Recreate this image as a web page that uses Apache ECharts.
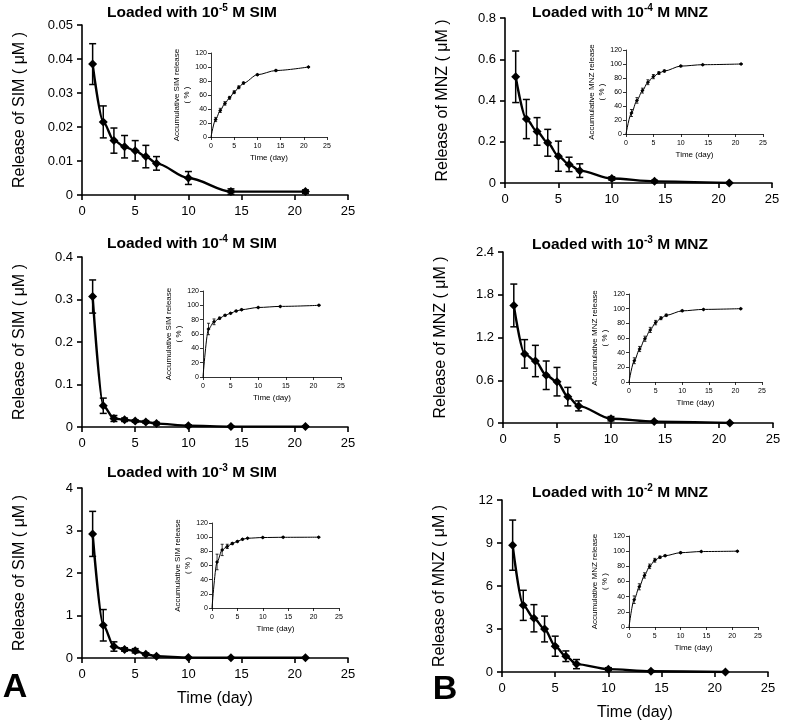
<!DOCTYPE html>
<html>
<head>
<meta charset="utf-8">
<script src="https://cdn.jsdelivr.net/npm/echarts@6/dist/echarts.min.js"></script>
<style>html,body{margin:0;padding:0;background:#fff;}#c{width:785px;height:728px;}</style>
</head>
<body>
<div id="c"></div>
<script>
// ---- data ----
const days = [1, 2, 3, 4, 5, 6, 7, 10, 14, 21];
const cumDays = [0, 1, 2, 3, 4, 5, 6, 7, 10, 14, 21];
const timeTicks = [0, 5, 10, 15, 20, 25];
const cumTicks = [0, 20, 40, 60, 80, 100, 120];

const sim5Mean = [0.0385, 0.0215, 0.016, 0.0142, 0.013, 0.0113, 0.0093, 0.005, 0.001, 0.001];
const sim5Err = [0.006, 0.0047, 0.0037, 0.0033, 0.003, 0.0033, 0.002, 0.0019, 0.0008, 0.0005];
const sim5Cum = [0, 25, 38, 48, 56, 64, 71, 77, 89, 95, 100];
const sim5CumErr = [0, 3, 3, 2.5, 2, 2, 2, 1.5, 1, 1, 0.5];
const sim5Ticks = [0, 0.01, 0.02, 0.03, 0.04, 0.05];

const sim4Mean = [0.307, 0.05, 0.02, 0.017, 0.014, 0.012, 0.008, 0.003, 0.001, 0.001];
const sim4Err = [0.039, 0.018, 0.007, 0.004, 0.003, 0.003, 0.003, 0.002, 0.001, 0.001];
const sim4Cum = [0, 67, 77, 82, 86, 89, 92, 94, 97, 98.5, 100];
const sim4CumErr = [0, 8, 4, 1.5, 1, 1, 1, 1, 0.5, 0.5, 0.5];
const sim4Ticks = [0, 0.1, 0.2, 0.3, 0.4];

const sim3Mean = [2.92, 0.77, 0.27, 0.2, 0.17, 0.09, 0.04, 0.01, 0.005, 0.005];
const sim3Err = [0.53, 0.37, 0.11, 0.04, 0.05, 0.03, 0.02, 0.01, 0.005, 0.005];
const sim3Cum = [0, 65, 82, 87, 91, 94, 97, 98.5, 99.5, 99.8, 100];
const sim3CumErr = [0, 11, 8, 3, 1.5, 1, 1, 0.5, 0.5, 0.5, 0.5];
const sim3Ticks = [0, 1, 2, 3, 4];

const mnz4Mean = [0.515, 0.31, 0.25, 0.195, 0.13, 0.09, 0.06, 0.022, 0.008, 0];
const mnz4Err = [0.125, 0.095, 0.067, 0.065, 0.073, 0.035, 0.033, 0.008, 0.005, 0.002];
const mnz4Cum = [0, 30, 48, 62, 74, 82, 87, 90, 97, 99, 100];
const mnz4CumErr = [0, 5, 4, 3.5, 3.5, 3, 2, 1.5, 1, 0.5, 0.5];
const mnz4Ticks = [0, 0.2, 0.4, 0.6, 0.8];

const mnz3Mean = [1.65, 0.97, 0.87, 0.67, 0.58, 0.37, 0.24, 0.06, 0.02, 0];
const mnz3Err = [0.3, 0.2, 0.22, 0.2, 0.2, 0.13, 0.07, 0.03, 0.01, 0.005];
const mnz3Cum = [0, 29, 45, 59, 71, 81, 87, 91, 97, 99, 100];
const mnz3CumErr = [0, 4, 3.5, 3.5, 3.5, 3, 2, 1.5, 1, 0.5, 0.5];
const mnz3Ticks = [0, 0.6, 1.2, 1.8, 2.4];

const mnz2Mean = [8.85, 4.65, 3.75, 3.0, 1.8, 1.1, 0.55, 0.2, 0.05, 0];
const mnz2Err = [1.75, 1.05, 0.95, 0.9, 0.7, 0.37, 0.32, 0.1, 0.05, 0.02];
const mnz2Cum = [0, 36, 53, 68, 80, 88, 92, 94, 98, 99.5, 100];
const mnz2CumErr = [0, 5, 4, 3.5, 3, 2.5, 1.5, 1, 1, 0.5, 0.5];
const mnz2Ticks = [0, 3, 6, 9, 12];

// ---- layout ----
const FONT = '"Liberation Sans", Arial, sans-serif';
const panels = [
  {drug:'SIM', exp:'-5', mean:sim5Mean, err:sim5Err, cum:sim5Cum, cumErr:sim5CumErr, ticks:sim5Ticks,
   main:{left:82, top:25, width:266, height:170}, inset:{left:211, top:53, width:116, height:84}, title:[192,13], xname:false},
  {drug:'SIM', exp:'-4', mean:sim4Mean, err:sim4Err, cum:sim4Cum, cumErr:sim4CumErr, ticks:sim4Ticks,
   main:{left:82, top:257, width:266, height:170}, inset:{left:203, top:291, width:138, height:86}, title:[192,244], xname:false},
  {drug:'SIM', exp:'-3', mean:sim3Mean, err:sim3Err, cum:sim3Cum, cumErr:sim3CumErr, ticks:sim3Ticks,
   main:{left:82, top:488, width:266, height:170}, inset:{left:212, top:523, width:127, height:85}, title:[192,473], xname:true},
  {drug:'MNZ', exp:'-4', mean:mnz4Mean, err:mnz4Err, cum:mnz4Cum, cumErr:mnz4CumErr, ticks:mnz4Ticks,
   main:{left:505, top:18, width:267, height:165}, inset:{left:626, top:50, width:137, height:84}, title:[620,13], xname:false},
  {drug:'MNZ', exp:'-3', mean:mnz3Mean, err:mnz3Err, cum:mnz3Cum, cumErr:mnz3CumErr, ticks:mnz3Ticks,
   main:{left:503, top:252, width:270, height:171}, inset:{left:629, top:294, width:133, height:88}, title:[620,245], xname:false},
  {drug:'MNZ', exp:'-2', mean:mnz2Mean, err:mnz2Err, cum:mnz2Cum, cumErr:mnz2CumErr, ticks:mnz2Ticks,
   main:{left:502, top:500, width:266, height:172}, inset:{left:629, top:536, width:129, height:91}, title:[620,493], xname:true}
];

const grid = [], xAxis = [], yAxis = [], series = [], graphic = [];

function errRender(cap, lw) {
  return function (params, api) {
    const x = api.value(0), y = api.value(1), e = api.value(2);
    const t = api.coord([x, y + e]);
    const b = api.coord([x, Math.max(0, y - e)]);
    const st = {stroke: '#000', lineWidth: lw};
    return {type: 'group', children: [
      {type: 'line', shape: {x1: t[0], y1: t[1], x2: b[0], y2: b[1]}, style: st},
      {type: 'line', shape: {x1: t[0] - cap, y1: t[1], x2: t[0] + cap, y2: t[1]}, style: st},
      {type: 'line', shape: {x1: b[0] - cap, y1: b[1], x2: b[0] + cap, y2: b[1]}, style: st}
    ]};
  };
}

function axisCommon(fs, lw, tickLen, margin) {
  return {
    axisLine: {show: true, onZero: false, lineStyle: {color: '#000', width: lw}},
    axisTick: {show: true, inside: false, length: tickLen, lineStyle: {color: '#000', width: lw}},
    axisLabel: {color: '#000', fontSize: fs, fontFamily: FONT, margin: margin},
    splitLine: {show: false}
  };
}

panels.forEach(function (p) {
  // main grid
  const gi = grid.length;
  grid.push(Object.assign({containLabel: false}, p.main));
  const xm = axisCommon(13, 1.6, 5, 10);
  xAxis.push(Object.assign(xm, {
    type: 'value', gridIndex: gi, min: timeTicks[0], max: timeTicks[timeTicks.length - 1],
    interval: timeTicks[1] - timeTicks[0],
    name: p.xname ? 'Time (day)' : '', nameLocation: 'middle', nameGap: 33,
    nameTextStyle: {color: '#000', fontSize: 16, fontFamily: FONT}
  }));
  const ym = axisCommon(13, 1.6, 5, 9);
  yAxis.push(Object.assign(ym, {
    type: 'value', gridIndex: gi, min: p.ticks[0], max: p.ticks[p.ticks.length - 1],
    interval: p.ticks[1] - p.ticks[0],
    name: 'Release of ' + p.drug + ' ( \u03bcM )', nameLocation: 'middle', nameGap: 54, nameRotate: 90,
    nameTextStyle: {color: '#000', fontSize: 16, fontFamily: FONT}
  }));
  series.push({
    type: 'line', xAxisIndex: gi, yAxisIndex: gi, smooth: 0.3, smoothMonotone: 'x',
    data: days.map(function (d, k) { return [d, p.mean[k]]; }),
    symbol: 'diamond', symbolSize: 9, showSymbol: true,
    lineStyle: {color: '#000', width: 2.4}, itemStyle: {color: '#000'},
    animation: false, z: 3
  });
  series.push({
    type: 'custom', xAxisIndex: gi, yAxisIndex: gi, renderItem: errRender(3.5, 1.5),
    encode: {x: 0, y: 1},
    data: days.map(function (d, k) { return [d, p.mean[k], p.err[k]]; }),
    animation: false, z: 4, clip: false
  });
  // inset grid
  const ii = grid.length;
  grid.push(Object.assign({containLabel: false}, p.inset));
  const xi = axisCommon(7, 0.8, 3, 6);
  xAxis.push(Object.assign(xi, {
    type: 'value', gridIndex: ii, min: timeTicks[0], max: timeTicks[timeTicks.length - 1],
    interval: timeTicks[1] - timeTicks[0],
    name: 'Time (day)', nameLocation: 'middle', nameGap: 17,
    nameTextStyle: {color: '#000', fontSize: 8, fontFamily: FONT}
  }));
  const yi = axisCommon(7, 0.8, 3, 4);
  yAxis.push(Object.assign(yi, {
    type: 'value', gridIndex: ii, min: cumTicks[0], max: cumTicks[cumTicks.length - 1],
    interval: cumTicks[1] - cumTicks[0],
    name: 'Accumulative ' + p.drug + ' release\n( % )', nameLocation: 'middle', nameGap: 14, nameRotate: 90,
    nameTextStyle: {color: '#000', fontSize: 8, lineHeight: 10, fontFamily: FONT}
  }));
  series.push({
    type: 'line', xAxisIndex: ii, yAxisIndex: ii, smooth: 0.3, smoothMonotone: 'x',
    data: cumDays.map(function (d, k) {
      return k === 0 ? {value: [d, p.cum[k]], symbol: 'none'} : [d, p.cum[k]];
    }),
    symbol: 'diamond', symbolSize: 4, showSymbol: true,
    lineStyle: {color: '#000', width: 1}, itemStyle: {color: '#000'},
    animation: false, z: 3
  });
  series.push({
    type: 'custom', xAxisIndex: ii, yAxisIndex: ii, renderItem: errRender(1.5, 0.8),
    encode: {x: 0, y: 1},
    data: cumDays.slice(1).map(function (d, k) { return [d, p.cum[k + 1], p.cumErr[k + 1]]; }),
    animation: false, z: 4, clip: false
  });
  // title
  graphic.push({
    type: 'text', x: p.title[0], y: p.title[1],
    style: {
      text: '{a|Loaded with 10}{s|' + p.exp + '}{a| M ' + p.drug + '}',
      align: 'center', verticalAlign: 'middle',
      rich: {
        a: {fontSize: 15.5, fontWeight: 'bold', fontFamily: FONT, fill: '#000', lineHeight: 19},
        s: {fontSize: 10, fontWeight: 'bold', fontFamily: FONT, fill: '#000', lineHeight: 19, padding: [0, 0, 10, 0]}
      }
    }
  });
});

graphic.push({type: 'text', x: 15, y: 688, style: {text: 'A', align: 'center', verticalAlign: 'middle', font: 'bold 34px ' + FONT, fill: '#000'}});
graphic.push({type: 'text', x: 445, y: 690, style: {text: 'B', align: 'center', verticalAlign: 'middle', font: 'bold 34px ' + FONT, fill: '#000'}});

const chart = echarts.init(document.getElementById('c'), null, {renderer: 'canvas'});
chart.setOption({
  animation: false,
  backgroundColor: '#fff',
  grid: grid, xAxis: xAxis, yAxis: yAxis, series: series, graphic: graphic
});
</script>
</body>
</html>
